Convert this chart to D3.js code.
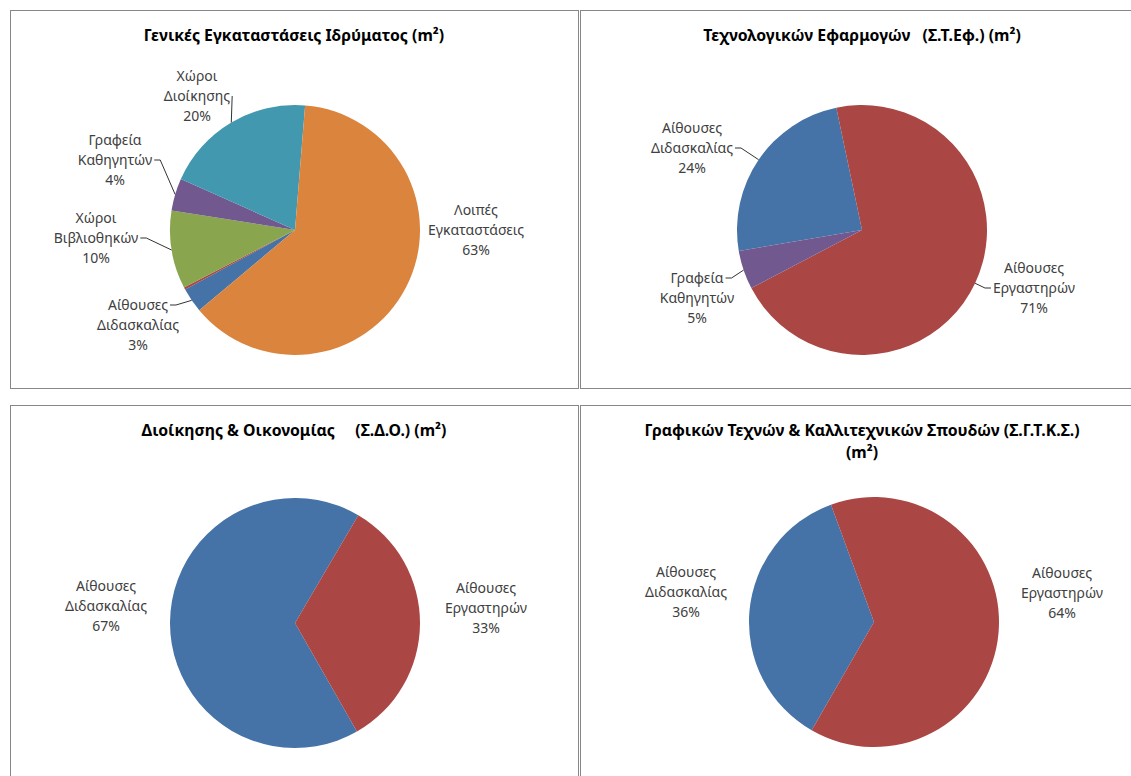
<!DOCTYPE html>
<html><head><meta charset="utf-8">
<script src="https://cdn.jsdelivr.net/npm/d3@7"></script>
<style>
body{margin:0;background:#fff}
text{font-family:"Noto Sans",sans-serif}
</style>
</head><body>
<svg id="c" width="1131" height="776"></svg>
<script>
// ---------- data ----------
const categories = ["Αίθουσες Διδασκαλίας","Αίθουσες Εργαστηρών","Χώροι Βιβλιοθηκών","Γραφεία Καθηγητών","Χώροι Διοίκησης","Λοιπές Εγκαταστάσεις"];
const generalValues = [3.2, 0.3, 10.1, 4.2, 19.6, 62.6];   // Γενικές Εγκαταστάσεις Ιδρύματος (%)
const stefValues    = [24.4, 70.6, 0, 5.0, 0, 0];          // Σ.Τ.Εφ. (%)
const sdoValues     = [66.7, 33.3, 0, 0, 0, 0];            // Σ.Δ.Ο. (%)
const sgtksValues   = [36.1, 63.9, 0, 0, 0, 0];            // Σ.Γ.Τ.Κ.Σ. (%)
const titles = [
  ["Γενικές Εγκαταστάσεις Ιδρύματος (m²)"],
  ["Τεχνολογικών Εφαρμογών   (Σ.Τ.Εφ.) (m²)"],
  ["Διοίκησης & Οικονομίας     (Σ.Δ.Ο.) (m²)"],
  ["Γραφικών Τεχνών & Καλλιτεχνικών Σπουδών (Σ.Γ.Τ.Κ.Σ.)","(m²)"]
];
const colors = ["#4572A7","#AA4643","#89A54E","#71588F","#4198AF","#DB843D"];

// ---------- layout ----------
const charts = [
  {values: generalValues, title: titles[0], panel:[10.5,10.5,568,378], tx:294, cx:295, cy:230, start:230,
   labels:{0:{dx:-157,dy:95,leader:0},2:{dx:-199,dy:8,leader:1},3:{dx:-180,dy:-70,leader:1},4:{dx:-98,dy:-134,leader:1},5:{dx:181,dy:0}}},
  {values: stefValues, title: titles[1], panel:[580.5,10.5,570,378], tx:862, cx:862, cy:230, start:260.3,
   labels:{0:{dx:-170,dy:-82,leader:1},1:{dx:172,dy:58,leader:1},3:{dx:-165,dy:68,leader:0}}},
  {values: sdoValues, title: titles[2], panel:[10.5,405.5,568,380], tx:294, cx:295, cy:623, start:150.3,
   labels:{0:{dx:-189,dy:-17},1:{dx:191,dy:-15}}},
  {values: sgtksValues, title: titles[3], panel:[580.5,405.5,570,380], tx:862, cx:874, cy:622, start:209.9,
   labels:{0:{dx:-188,dy:-30},1:{dx:188,dy:-29}}}
];
const R = 125, FS = 14, LH = 20, TFS = 15.8;

const svg = d3.select("#c");
const color = d3.scaleOrdinal().domain(categories).range(colors);

charts.forEach(ch => {
  const [px,py,pw,ph] = ch.panel;
  svg.append("rect").attr("x",px).attr("y",py).attr("width",pw).attr("height",ph)
     .attr("fill","#fff").attr("stroke","#878787").attr("stroke-width",1);
  ch.title.forEach((t,i)=>{
    svg.append("text").attr("x", ch.tx).attr("y", py + 30 + i*22)
      .attr("text-anchor","middle").attr("font-size",TFS).attr("font-weight","bold")
      .attr("fill","#000").style("white-space","pre").text(t);
  });

  const data = categories.map((c,i)=>({cat:c, v:ch.values[i], i}));
  const total = d3.sum(data, d=>d.v);
  const a0 = ch.start*Math.PI/180;
  const pie = d3.pie().value(d=>d.v).sort(null).startAngle(a0).endAngle(a0+2*Math.PI);
  const arcs = pie(data);
  const arc = d3.arc().innerRadius(0).outerRadius(R);
  const edge = d3.arc().innerRadius(R).outerRadius(R);
  const g = svg.append("g").attr("transform",`translate(${ch.cx},${ch.cy})`);
  g.selectAll("path").data(arcs.filter(d=>d.data.v>0)).join("path")
    .attr("d",arc).attr("fill",d=>color(d.data.cat));

  arcs.forEach(d=>{
    const L = ch.labels[d.data.i];
    if(!L || d.data.v<=0) return;
    const lines = d.data.cat.split(" ").concat([Math.round(d.data.v/total*100)+"%"]);
    const widths = [];
    lines.forEach((s,k)=>{
      const t = g.append("text").attr("x",L.dx).attr("y",L.dy+(k-1)*LH + FS*0.36)
        .attr("text-anchor","middle").attr("font-size",FS).attr("fill","#404040").text(s);
      widths.push(t.node().getComputedTextLength());
    });
    if(L.leader!==undefined){
      const [ex,ey] = edge.centroid(d);
      const side = L.dx<0 ? 1 : -1;
      const ax = L.dx + side*(widths[L.leader]/2 + 2);
      const ay = L.dy + (L.leader-1)*LH;
      const pts = [[ax,ay]];
      if(Math.abs(ex-ax)>8) pts.push([ax+side*6, ay]);
      pts.push([ex,ey]);
      g.append("path").attr("d",d3.line()(pts)).attr("fill","none")
        .attr("stroke","#333").attr("stroke-width",1);
    }
  });
});
</script>
</body></html>
